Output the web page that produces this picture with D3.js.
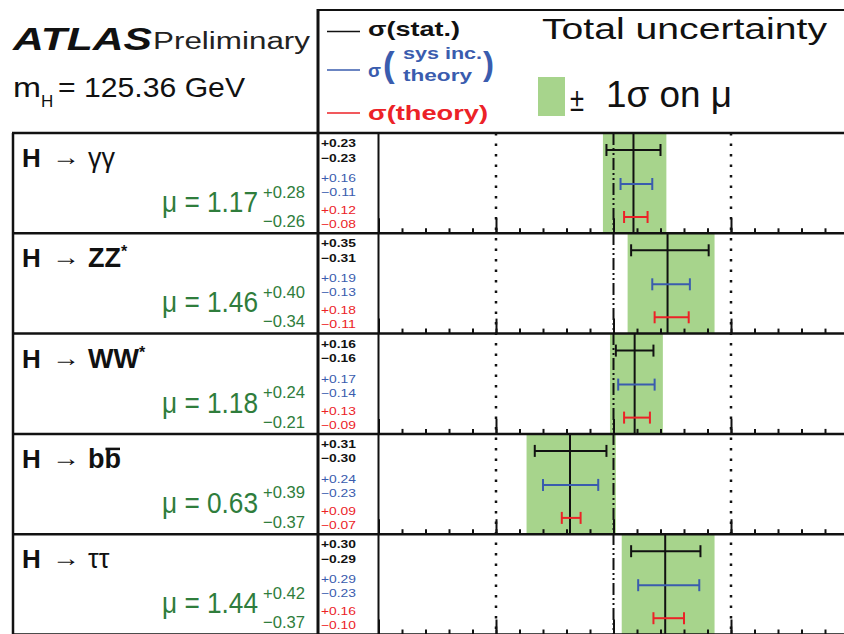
<!DOCTYPE html>
<html>
<head>
<meta charset="utf-8">
<script src="https://cdn.jsdelivr.net/npm/d3@7"></script>
<style>
	body { margin: 0; background: #fff; }
	svg { display: block; font-family: "Liberation Sans", Arial, sans-serif; }
</style>
</head>
<body>
<svg id="chart" width="844" height="634"></svg>
<script>
// channels and fitted signal strengths
const particles = ["γγ", "ZZ", "WW", "bb", "ττ"];
const starred = [false, true, true, false, false];
const boldParticle = [false, true, true, true, false];
const mu = [1.17, 1.46, 1.18, 0.63, 1.44];
const totUp = [0.28, 0.40, 0.24, 0.39, 0.42];
const totDn = [0.26, 0.34, 0.21, 0.37, 0.37];
const statUp = [0.23, 0.35, 0.16, 0.31, 0.30];
const statDn = [0.23, 0.31, 0.16, 0.30, 0.29];
const sysUp = [0.16, 0.19, 0.17, 0.24, 0.29];
const sysDn = [0.11, 0.13, 0.14, 0.23, 0.23];
const thUp = [0.12, 0.18, 0.13, 0.09, 0.16];
const thDn = [0.08, 0.11, 0.09, 0.07, 0.10];
const axisDomain = [-1, 3];
const refLines = [0, 2];
const smLine = 1;

const BLACK = '#111', BLUE = '#3a5cae', RED = '#ec2227', GREEN = '#2f7d3c', BAND = '#a7d48c';

const svg = d3.select('#chart');

const x = d3.scaleLinear().domain(axisDomain).range([378.5, 848.5]);
const y = d3.scaleBand().domain(d3.range(particles.length)).range([133, 634.5]);
const rowH = y.bandwidth();
const yTop = y.range()[0], yBot = y.range()[1];

// ---------- header ----------
svg.append('text').attr('x', 13).attr('y', 49.5)
	.attr('font-size', 31).attr('font-weight', 'bold').attr('font-style', 'italic')
	.attr('textLength', 139).attr('lengthAdjust', 'spacingAndGlyphs')
	.attr('fill', BLACK).text('ATLAS');
svg.append('text').attr('x', 153).attr('y', 48.5)
	.attr('font-size', 23).attr('textLength', 157).attr('lengthAdjust', 'spacingAndGlyphs')
	.attr('fill', '#222').text('Preliminary');
svg.append('text').attr('x', 13).attr('y', 96.5)
	.attr('font-size', 28).attr('textLength', 28).attr('lengthAdjust', 'spacingAndGlyphs')
	.attr('fill', BLACK).text('m');
svg.append('text').attr('x', 41).attr('y', 107)
	.attr('font-size', 17).attr('fill', BLACK).text('H');
svg.append('text').attr('x', 58).attr('y', 96.5)
	.attr('font-size', 28).attr('textLength', 187).attr('lengthAdjust', 'spacingAndGlyphs')
	.attr('fill', BLACK).text('= 125.36 GeV');

// legend box
svg.append('line').attr('x1', 318).attr('x2', 844).attr('y1', 10).attr('y2', 10)
	.attr('stroke', BLACK).attr('stroke-width', 2);

const legend = [
	{ color: BLACK, y: 31.5 },
	{ color: BLUE, y: 70 },
	{ color: RED, y: 113 }
];
svg.selectAll('.legline').data(legend).join('line')
	.attr('x1', 327).attr('x2', 360)
	.attr('y1', d => d.y).attr('y2', d => d.y)
	.attr('stroke', d => d.color).attr('stroke-width', 1.5);

svg.append('text').attr('x', 368).attr('y', 36)
	.attr('font-size', 21).attr('font-weight', 'bold')
	.attr('textLength', 92).attr('lengthAdjust', 'spacingAndGlyphs')
	.attr('fill', BLACK).text('σ(stat.)');
svg.append('text').attr('x', 368).attr('y', 77)
	.attr('font-size', 19).attr('font-weight', 'bold').attr('fill', BLUE).text('σ');
svg.append('text').attr('x', 383).attr('y', 77)
	.attr('font-size', 35).attr('font-weight', 'bold').attr('fill', BLUE).text('(');
svg.append('text').attr('x', 403).attr('y', 58.5)
	.attr('font-size', 16).attr('font-weight', 'bold')
	.attr('textLength', 79).attr('lengthAdjust', 'spacingAndGlyphs')
	.attr('fill', BLUE).text('sys inc.');
svg.append('text').attr('x', 403).attr('y', 80.5)
	.attr('font-size', 16).attr('font-weight', 'bold')
	.attr('textLength', 69).attr('lengthAdjust', 'spacingAndGlyphs')
	.attr('fill', BLUE).text('theory');
svg.append('text').attr('x', 483).attr('y', 75)
	.attr('font-size', 33).attr('font-weight', 'bold').attr('fill', BLUE).text(')');
svg.append('text').attr('x', 368).attr('y', 119.5)
	.attr('font-size', 21).attr('font-weight', 'bold')
	.attr('textLength', 120).attr('lengthAdjust', 'spacingAndGlyphs')
	.attr('fill', RED).text('σ(theory)');

svg.append('text').attr('x', 542).attr('y', 38.5)
	.attr('font-size', 30).attr('textLength', 285).attr('lengthAdjust', 'spacingAndGlyphs')
	.attr('fill', BLACK).text('Total uncertainty');
svg.append('rect').attr('x', 538).attr('y', 77).attr('width', 27).attr('height', 39)
	.attr('fill', BAND);
svg.append('text').attr('x', 570).attr('y', 111)
	.attr('font-size', 34).attr('textLength', 14).attr('lengthAdjust', 'spacingAndGlyphs')
	.attr('fill', BLACK).text('±');
svg.append('text').attr('x', 606).attr('y', 106.5)
	.attr('font-size', 36).attr('textLength', 126).attr('lengthAdjust', 'spacingAndGlyphs')
	.attr('fill', BLACK).text('1σ on μ');

// ---------- rows ----------
const rows = svg.selectAll('.row').data(particles).join('g')
	.attr('class', 'row')
	.attr('transform', (d, i) => `translate(0,${y(i)})`);

// total uncertainty band
rows.append('rect')
	.attr('x', (d, i) => x(mu[i] - totDn[i]))
	.attr('width', (d, i) => x(mu[i] + totUp[i]) - x(mu[i] - totDn[i]))
	.attr('y', 0).attr('height', rowH)
	.attr('fill', BAND);

// reference lines at 0 and 2, SM line at 1
svg.selectAll('.ref').data(refLines).join('line')
	.attr('x1', d => x(d)).attr('x2', d => x(d))
	.attr('y1', yTop).attr('y2', yBot)
	.attr('stroke', BLACK).attr('stroke-width', 2.5)
	.attr('stroke-dasharray', '2.5,8');
svg.append('line')
	.attr('x1', x(smLine)).attr('x2', x(smLine))
	.attr('y1', yTop).attr('y2', yBot)
	.attr('stroke', BLACK).attr('stroke-width', 2)
	.attr('stroke-dasharray', '12,3,2,3,2,3');

// central value line
rows.append('line')
	.attr('x1', (d, i) => x(mu[i])).attr('x2', (d, i) => x(mu[i]))
	.attr('y1', 0).attr('y2', rowH)
	.attr('stroke', BLACK).attr('stroke-width', 2);

// error bars and numbers
const comps = [
	{ up: statUp, dn: statDn, color: BLACK, yb: 17, yu: 14, yd: 28.5, w: 'bold' },
	{ up: sysUp, dn: sysDn, color: BLUE, yb: 51, yu: 49, yd: 63, w: 'normal' },
	{ up: thUp, dn: thDn, color: RED, yb: 84, yu: 81, yd: 95, w: 'normal' }
];

rows.each(function (d, i) {
	const g = d3.select(this);
	comps.forEach(c => {
		const lo = x(mu[i] - c.dn[i]), hi = x(mu[i] + c.up[i]);
		g.append('line').attr('x1', lo).attr('x2', hi).attr('y1', c.yb).attr('y2', c.yb)
			.attr('stroke', c.color).attr('stroke-width', 2);
		[lo, hi].forEach(px => {
			g.append('line').attr('x1', px).attr('x2', px)
				.attr('y1', c.yb - 6).attr('y2', c.yb + 6)
				.attr('stroke', c.color).attr('stroke-width', 2);
		});
		g.append('text').attr('x', 321).attr('y', c.yu)
			.attr('font-size', 11).attr('font-weight', c.w)
			.attr('textLength', 35).attr('lengthAdjust', 'spacingAndGlyphs')
			.attr('fill', c.color).text('+' + c.up[i].toFixed(2));
		g.append('text').attr('x', 321).attr('y', c.yd)
			.attr('font-size', 11).attr('font-weight', c.w)
			.attr('textLength', 35).attr('lengthAdjust', 'spacingAndGlyphs')
			.attr('fill', c.color).text('\u2212' + c.dn[i].toFixed(2));
	});

	// channel label
	g.append('text').attr('x', 22).attr('y', 34)
		.attr('font-size', 26).attr('font-weight', 'bold').attr('fill', BLACK).text('H');
	g.append('text').attr('x', 52).attr('y', 32)
		.attr('font-size', 24).attr('textLength', 28).attr('lengthAdjust', 'spacingAndGlyphs')
		.attr('fill', BLACK).text('\u2192');
	const pt = g.append('text').attr('x', 88).attr('y', 34)
		.attr('font-size', 27).attr('font-weight', boldParticle[i] ? 'bold' : 'normal')
		.attr('fill', BLACK).text(d);
	if (starred[i]) {
		const w = pt.node().getComputedTextLength();
		g.append('text').attr('x', 88 + w).attr('y', 24)
			.attr('font-size', 16).attr('font-weight', 'bold').attr('fill', BLACK).text('*');
	}
	if (d === 'bb') {
		const ext = pt.node().getExtentOfChar(1);
		g.append('line').attr('x1', ext.x + 1).attr('x2', ext.x + ext.width - 1)
			.attr('y1', 15).attr('y2', 15)
			.attr('stroke', BLACK).attr('stroke-width', 2.5);
	}

	// mu value with total uncertainty
	g.append('text').attr('x', 162).attr('y', 79)
		.attr('font-size', 29).attr('textLength', 96).attr('lengthAdjust', 'spacingAndGlyphs')
		.attr('fill', GREEN).text('μ = ' + mu[i].toFixed(2));
	g.append('text').attr('x', 263).attr('y', 64.5)
		.attr('font-size', 17).attr('textLength', 42).attr('lengthAdjust', 'spacingAndGlyphs')
		.attr('fill', GREEN).text('+' + totUp[i].toFixed(2));
	g.append('text').attr('x', 263).attr('y', 94)
		.attr('font-size', 17).attr('textLength', 42).attr('lengthAdjust', 'spacingAndGlyphs')
		.attr('fill', GREEN).text('\u2212' + totDn[i].toFixed(2));

	// ticks along the bottom of each row
	const minor = g.append('g').attr('transform', `translate(0,${rowH})`)
		.call(d3.axisBottom(x).ticks(20).tickSize(-5).tickFormat(''));
	const major = g.append('g').attr('transform', `translate(0,${rowH})`)
		.call(d3.axisBottom(x).ticks(4).tickSize(-15).tickFormat(''));
	[minor, major].forEach(a => {
		a.select('.domain').remove();
		a.selectAll('line').attr('stroke', BLACK).attr('stroke-width', 2);
	});
});

// ---------- frame ----------
const seps = d3.range(particles.length + 1).map(i => yTop + i * rowH);
svg.selectAll('.sep').data(seps).join('line')
	.attr('x1', 12).attr('x2', 844)
	.attr('y1', d => d).attr('y2', d => d)
	.attr('stroke', BLACK).attr('stroke-width', 2.5);

svg.append('line').attr('x1', 13).attr('x2', 13).attr('y1', yTop).attr('y2', yBot)
	.attr('stroke', BLACK).attr('stroke-width', 2.5);
svg.append('line').attr('x1', 318).attr('x2', 318).attr('y1', 9).attr('y2', yBot)
	.attr('stroke', BLACK).attr('stroke-width', 3);
svg.append('line').attr('x1', x(axisDomain[0])).attr('x2', x(axisDomain[0]))
	.attr('y1', yTop).attr('y2', yBot)
	.attr('stroke', BLACK).attr('stroke-width', 2);
</script>
</body>
</html>
